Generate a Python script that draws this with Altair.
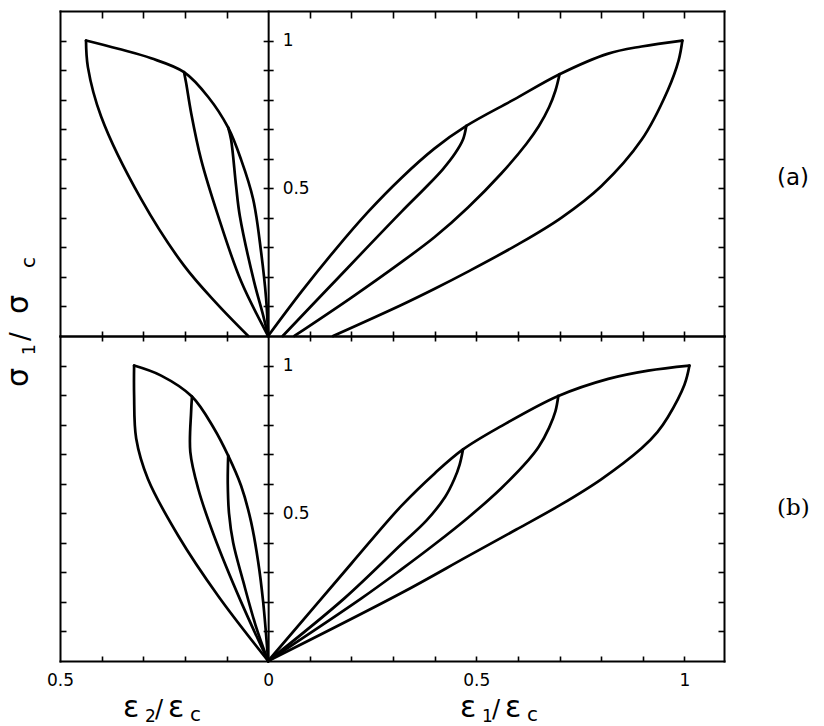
import altair as alt
import pandas as pd

# ---------------------------------------------------------------------------
# Stress-strain curves, sigma1/sigmac against eps1/epsc (right) and
# eps2/epsc (left, lateral strain plotted towards negative x).
# Each panel: monotonic envelope plus three unloading branches.
# ---------------------------------------------------------------------------

# panel (a), axial side
A_R_ENV_X = [0.0, 0.08, 0.16, 0.24, 0.32, 0.40, 0.476, 0.59, 0.70, 0.815, 0.897, 0.995]
A_R_ENV_Y = [0.0, 0.15, 0.29, 0.42, 0.535, 0.635, 0.711, 0.80, 0.886, 0.955, 0.98, 1.0]
A_R_UN1_X = [0.476, 0.468, 0.45, 0.42, 0.38, 0.32, 0.15, 0.035]
A_R_UN1_Y = [0.711, 0.665, 0.62, 0.565, 0.505, 0.42, 0.17, 0.0]
A_R_UN2_X = [0.70, 0.69, 0.675, 0.65, 0.62, 0.56, 0.48, 0.40, 0.32, 0.20, 0.063]
A_R_UN2_Y = [0.886, 0.83, 0.775, 0.71, 0.65, 0.55, 0.435, 0.335, 0.25, 0.13, 0.0]
A_R_UN3_X = [0.995, 0.986, 0.96, 0.897, 0.80, 0.704, 0.60, 0.48, 0.40, 0.32, 0.156]
A_R_UN3_Y = [1.0, 0.933, 0.832, 0.664, 0.507, 0.40, 0.31, 0.218, 0.16, 0.105, 0.0]

# panel (a), lateral side
A_L_ENV_X = [0.0, -0.005, -0.017, -0.036, -0.065, -0.096, -0.144, -0.202, -0.281, -0.36, -0.4375]
A_L_ENV_Y = [0.0, 0.128, 0.285, 0.463, 0.597, 0.705, 0.809, 0.893, 0.94, 0.972, 1.0]
A_L_UN1_X = [-0.096, -0.089, -0.077, -0.068, -0.034, -0.012, 0.0]
A_L_UN1_Y = [0.705, 0.664, 0.507, 0.406, 0.185, 0.07, 0.0]
A_L_UN2_X = [-0.202, -0.197, -0.185, -0.161, -0.12, -0.065, 0.0]
A_L_UN2_Y = [0.893, 0.856, 0.755, 0.597, 0.406, 0.185, 0.0]
A_L_UN3_X = [-0.4375, -0.433, -0.401, -0.305, -0.202, -0.125, -0.048]
A_L_UN3_Y = [1.0, 0.91, 0.742, 0.463, 0.238, 0.112, 0.0]

# panel (b), axial side
B_R_ENV_X = [0.0, 0.2, 0.32, 0.40, 0.468, 0.56, 0.697, 0.817, 0.913, 1.012]
B_R_ENV_Y = [0.0, 0.33, 0.525, 0.635, 0.716, 0.795, 0.897, 0.955, 0.983, 1.0]
B_R_UN1_X = [0.468, 0.46, 0.447, 0.425, 0.38, 0.32, 0.183, 0.0]
B_R_UN1_Y = [0.716, 0.665, 0.615, 0.555, 0.475, 0.395, 0.212, 0.0]
B_R_UN2_X = [0.697, 0.69, 0.675, 0.65, 0.625, 0.56, 0.48, 0.40, 0.32, 0.224, 0.0]
B_R_UN2_Y = [0.897, 0.845, 0.79, 0.725, 0.68, 0.585, 0.485, 0.395, 0.31, 0.212, 0.0]
B_R_UN3_X = [1.012, 1.0, 0.96, 0.935, 0.897, 0.80, 0.704, 0.60, 0.48, 0.32, 0.0]
B_R_UN3_Y = [1.0, 0.935, 0.825, 0.775, 0.72, 0.615, 0.53, 0.448, 0.355, 0.23, 0.0]

# panel (b), lateral side
B_L_ENV_X = [0.0, -0.012, -0.024, -0.041, -0.065, -0.096, -0.13, -0.183, -0.257, -0.322]
B_L_ENV_Y = [0.0, 0.2, 0.336, 0.471, 0.593, 0.695, 0.787, 0.895, 0.966, 1.0]
B_L_UN1_X = [-0.096, -0.097, -0.094, -0.084, -0.06, -0.03, 0.0]
B_L_UN1_Y = [0.695, 0.60, 0.50, 0.40, 0.27, 0.12, 0.0]
B_L_UN2_X = [-0.183, -0.185, -0.187, -0.168, -0.13, -0.065, 0.0]
B_L_UN2_Y = [0.895, 0.844, 0.708, 0.583, 0.424, 0.2, 0.0]
B_L_UN3_X = [-0.322, -0.322, -0.317, -0.289, -0.216, -0.12, 0.0]
B_L_UN3_Y = [1.0, 0.9, 0.753, 0.617, 0.424, 0.22, 0.0]

X_TICKS = [-0.4, -0.3, -0.2, -0.1, 0.1, 0.2, 0.3, 0.4, 0.5, 0.6, 0.7, 0.8, 0.9, 1.0]
Y_TICKS = [0.1, 0.2, 0.3, 0.4, 0.5, 0.6, 0.7, 0.8, 0.9, 1.0]
X_LABELS = [-0.5, 0.0, 0.5, 1.0]
Y_LABELS = [0.5, 1.0]

# ---------------------------------------------------------------------------
W, H = 664, 325
X_DOMAIN = [-0.5, 1.095]
Y_DOMAIN = [0.0, 1.1]
X0 = W * (0 - X_DOMAIN[0]) / (X_DOMAIN[1] - X_DOMAIN[0])  # pixel column of eps = 0
FONT = "DejaVu Sans"


def curves_frame(curves):
    rows = []
    for name, xs, ys in curves:
        for i, (x, y) in enumerate(zip(xs, ys)):
            rows.append({"x": x, "y": y, "curve": name, "k": i})
    return pd.DataFrame(rows)


def ax(orient, offset, values, size, domain=True, labels=False, **kw):
    return alt.Axis(orient=orient, offset=offset, values=values, tickSize=size,
                    tickWidth=1.6, tickColor="black", domain=domain,
                    domainColor="black", domainWidth=2, domainCap="square",
                    grid=False, title=None, labels=labels, **kw)


def piece(text, px, py, size, angle=0, font=FONT):
    return alt.Chart(alt.Data(values=[{}])).mark_text(
        text=text, font=font, fontSize=size, align="left",
        baseline="alphabetic", angle=angle, color="black"
    ).encode(x=alt.value(px), y=alt.value(py))


xs = alt.Scale(domain=X_DOMAIN, nice=False, zero=False)
ys = alt.Scale(domain=Y_DOMAIN, nice=False, zero=False)


def panel(df, top_tick, with_x_labels, extras):
    base = alt.Chart(df)
    lines = base.mark_line(color="black", strokeWidth=2.7, interpolate="catmull-rom",
                           strokeJoin="round", strokeCap="round").encode(
        x=alt.X("x:Q", scale=xs, axis=ax("bottom", -H, X_TICKS, top_tick)),
        y=alt.Y("y:Q", scale=ys, axis=ax("right", -W, Y_TICKS, 6)),
        detail="curve:N",
        order="k:Q",
    )
    frame = base.mark_point(opacity=0).encode(
        x=alt.X("x:Q", scale=xs, axis=ax("top", -H, X_TICKS, 5)),
        y=alt.Y("y:Q", scale=ys, axis=ax("left", -W, Y_TICKS, 6)),
    )
    if with_x_labels:
        x_lab = ax("bottom", 0, X_LABELS, 0, domain=False, labels=True, ticks=False,
                   labelExpr="format(abs(datum.value), '~g')", labelFont=FONT,
                   labelFontSize=17, labelColor="black", labelPadding=11,
                   labelFlush=False, labelOverlap=False)
    else:
        x_lab = None
    centre = base.mark_point(opacity=0).encode(
        x=alt.X("x:Q", scale=xs, axis=x_lab),
        y=alt.Y("y:Q", scale=ys,
                axis=ax("right", -(W - X0), Y_TICKS, 5, labels=True,
                        labelExpr="indexof([0.5, 1], datum.value) >= 0 ? format(datum.value, '~g') : ''",
                        labelFont=FONT, labelFontSize=17, labelColor="black",
                        labelPadding=9, labelOverlap=False, labelFlush=False)),
    )
    centre_l = base.mark_point(opacity=0).encode(
        x=alt.X("x:Q", scale=xs, axis=None),
        y=alt.Y("y:Q", scale=ys, axis=ax("left", -X0, Y_TICKS, 5, domain=False)),
    )
    return alt.layer(lines, frame, centre, centre_l, *extras).properties(
        width=W, height=H
    ).resolve_axis(x="independent", y="independent")


df_a = curves_frame([
    ("r_env", A_R_ENV_X, A_R_ENV_Y), ("r_un1", A_R_UN1_X, A_R_UN1_Y),
    ("r_un2", A_R_UN2_X, A_R_UN2_Y), ("r_un3", A_R_UN3_X, A_R_UN3_Y),
    ("l_env", A_L_ENV_X, A_L_ENV_Y), ("l_un1", A_L_UN1_X, A_L_UN1_Y),
    ("l_un2", A_L_UN2_X, A_L_UN2_Y), ("l_un3", A_L_UN3_X, A_L_UN3_Y),
])
df_b = curves_frame([
    ("r_env", B_R_ENV_X, B_R_ENV_Y), ("r_un1", B_R_UN1_X, B_R_UN1_Y),
    ("r_un2", B_R_UN2_X, B_R_UN2_Y), ("r_un3", B_R_UN3_X, B_R_UN3_Y),
    ("l_env", B_L_ENV_X, B_L_ENV_Y), ("l_un1", B_L_UN1_X, B_L_UN1_Y),
    ("l_un2", B_L_UN2_X, B_L_UN2_Y), ("l_un3", B_L_UN3_X, B_L_UN3_Y),
])

# rotated y title  sigma_1 / sigma_c (pixel positions relative to panel (a))
y_title = [
    piece("σ", -32, 376, 30, 270),
    piece("1", -25, 344, 17, 270),
    piece("/", -31, 330, 26, 270),
    piece("σ", -32, 303, 30, 270),
    piece("c", -25, 257, 20, 270),
]
tag_a = [piece("(a)", 717, 174, 23)]

# x titles  eps_2 / eps_c  and  eps_1 / eps_c (relative to panel (b))
x_titles = [
    piece("ε", 63, 381, 30), piece("2", 85, 386, 17), piece("/", 95, 381, 24),
    piece("ε", 108, 381, 30), piece("c", 130, 385, 20),
    piece("ε", 400, 381, 30), piece("1", 422, 386, 17), piece("/", 432, 381, 24),
    piece("ε", 445, 381, 30), piece("c", 467, 385, 20),
]
tag_b = [piece("(b)", 717, 179, 23, font="DejaVu Serif")]

chart = alt.vconcat(
    panel(df_a, 7, False, y_title + tag_a),
    panel(df_b, 5, True, x_titles + tag_b),
    spacing=0,
    bounds="flush",
).properties(
    padding={"left": 4, "top": 10, "right": 0, "bottom": 0},
    background="white",
).configure_view(stroke=None)

chart.save("out.html", embed_options={"renderer": "svg", "actions": False})
